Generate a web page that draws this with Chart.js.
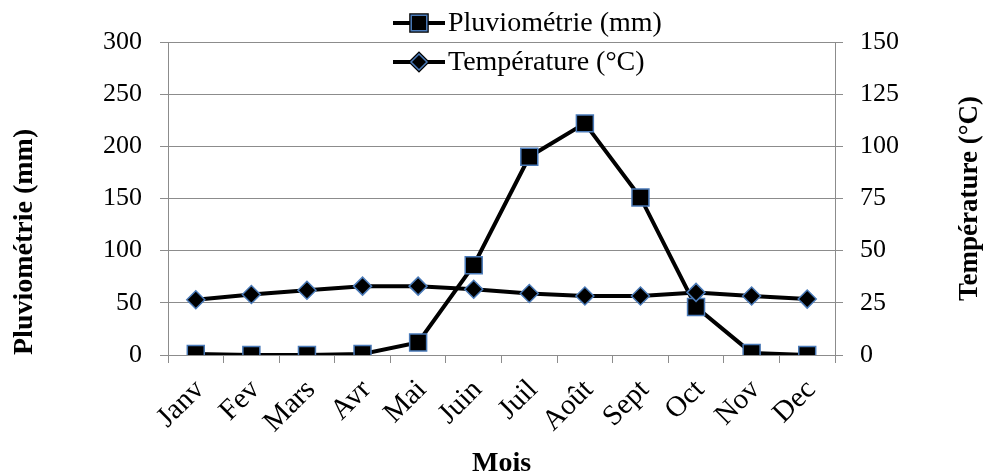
<!DOCTYPE html>
<html>
<head>
<meta charset="utf-8">
<script src="https://cdn.jsdelivr.net/npm/chart.js@4.4.1/dist/chart.umd.min.js"></script>
<style>
  html, body { margin: 0; padding: 0; background: #fff; }
  #wrap { width: 987px; height: 471px; position: relative; }
</style>
</head>
<body>
<div id="wrap"><canvas id="graf"></canvas></div>
<script>
const mois = ['Janv', 'Fev', 'Mars', 'Avr', 'Mai', 'Juin', 'Juil', 'Août', 'Sept', 'Oct', 'Nov', 'Dec'];
const pluvio = [1, 0, 0, 1, 12, 86, 190, 222, 151, 46, 2, 0];
const temperature = [26.5, 29, 31, 33, 33, 31.5, 29.5, 28.3, 28.3, 30, 28.3, 26.8];
const ticksPluvio = [0, 50, 100, 150, 200, 250, 300];
const ticksTemp = [0, 25, 50, 75, 100, 125, 150];

const serif = '"Liberation Serif", "Times New Roman", serif';
const gris = '#8c8c8c';
const bleu = '#4a7ab8';

// legende et titre de droite dessines a la main (positions proches de l'original)
const extras = {
  id: 'extras',
  afterDraw(chart) {
    const ctx = chart.ctx;
    const area = chart.chartArea;
    ctx.save();
    ctx.font = '28px ' + serif;
    ctx.textBaseline = 'middle';
    ctx.fillStyle = '#000';
    const lx = 393, ly = [23, 62];
    chart.data.datasets.forEach((ds, i) => {
      ctx.strokeStyle = '#000';
      ctx.lineWidth = 4;
      ctx.beginPath();
      ctx.moveTo(lx, ly[i]);
      ctx.lineTo(lx + 52, ly[i]);
      ctx.stroke();
      Chart.helpers.drawPoint(ctx, {
        pointStyle: ds.pointStyle,
        radius: i == 0 ? 11 : 8,
        borderWidth: 1.5
      }, lx + 26, ly[i]);
      ctx.fillStyle = '#000';
      ctx.strokeStyle = bleu;
      ctx.lineWidth = 1.5;
      ctx.fill();
      ctx.stroke();
      ctx.fillStyle = '#000';
      ctx.textAlign = 'left';
      ctx.fillText(ds.label, lx + 55, ly[i] + 1);
    });

    ctx.translate(970, (area.top + area.bottom) / 2);
    ctx.rotate(-Math.PI / 2);
    ctx.font = 'bold 27px ' + serif;
    ctx.textAlign = 'center';
    ctx.fillText('Température (°C)', 0, 0);
    ctx.restore();
  }
};

new Chart(document.getElementById('graf'), {
  type: 'line',
  data: {
    labels: mois,
    datasets: [{
      label: 'Pluviométrie (mm)',
      data: pluvio,
      yAxisID: 'y',
      borderColor: '#000',
      borderWidth: 4,
      pointStyle: 'rect',
      pointRadius: 12,
      pointHoverRadius: 12,
      pointBackgroundColor: '#000',
      pointBorderColor: bleu,
      pointBorderWidth: 1.5,
      tension: 0,
      order: 2
    }, {
      label: 'Température (°C)',
      data: temperature,
      yAxisID: 'y1',
      borderColor: '#000',
      borderWidth: 4,
      pointStyle: 'rectRot',
      pointRadius: 9,
      pointHoverRadius: 9,
      pointBackgroundColor: '#000',
      pointBorderColor: bleu,
      pointBorderWidth: 1.5,
      tension: 0,
      order: 1
    }]
  },
  options: {
    responsive: true,
    maintainAspectRatio: false,
    animation: false,
    layout: { padding: { top: 42 } },
    plugins: {
      legend: { display: false },
      tooltip: { enabled: false }
    },
    scales: {
      x: {
        offset: true,
        afterFit(s) { s.height = 116; },
        grid: { offset: true, drawOnChartArea: false, color: gris, tickLength: 8 },
        border: { color: gris },
        ticks: {
          color: '#000',
          font: { family: serif, size: 29 },
          maxRotation: 45,
          minRotation: 45,
          labelOffset: 4,
          padding: 10
        },
        title: {
          display: true,
          text: 'Mois',
          color: '#000',
          font: { family: serif, size: 28, weight: 'bold', lineHeight: 0.5 },
          padding: { top: 0, bottom: 0 }
        }
      },
      y: {
        position: 'left',
        min: 0,
        max: 300,
        afterFit(s) { s.width = 168; },
        afterBuildTicks(s) { s.ticks = ticksPluvio.map(v => ({ value: v })); },
        grid: { color: gris, tickLength: 8 },
        border: { color: gris },
        ticks: { color: '#000', font: { family: serif, size: 26 }, padding: 18 },
        title: {
          display: true,
          text: 'Pluviométrie (mm)',
          align: 'start',
          color: '#000',
          font: { family: serif, size: 28, weight: 'bold', lineHeight: 1.2 },
          padding: { top: 8, bottom: 0 }
        }
      },
      y1: {
        position: 'right',
        min: 0,
        max: 150,
        afterFit(s) { s.width = 152; },
        afterBuildTicks(s) { s.ticks = ticksTemp.map(v => ({ value: v })); },
        grid: { drawOnChartArea: false, color: gris, tickLength: 8 },
        border: { color: gris },
        ticks: { color: '#000', font: { family: serif, size: 26 }, padding: 17 }
      }
    }
  },
  plugins: [extras]
});
</script>
</body>
</html>
